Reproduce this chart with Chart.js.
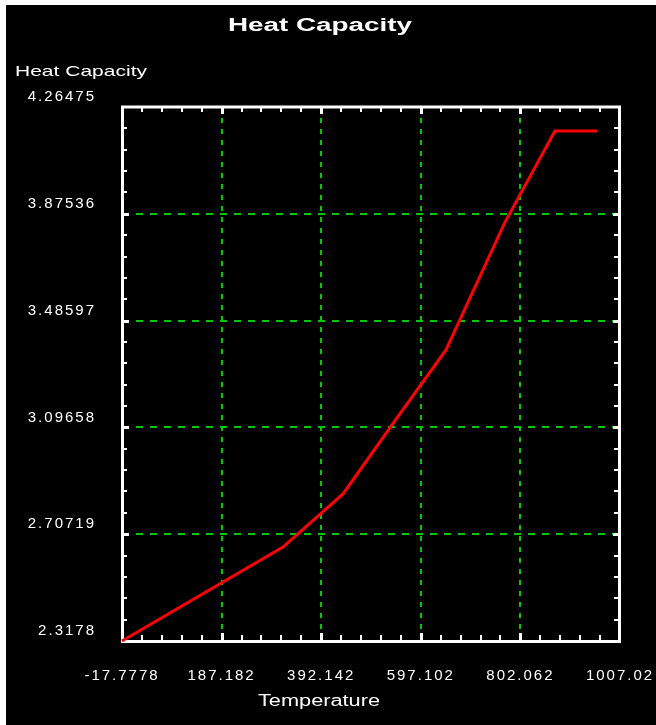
<!DOCTYPE html>
<html><head><meta charset="utf-8">
<script src="https://cdn.jsdelivr.net/npm/chart.js@4.4.1/dist/chart.umd.min.js"></script>
<style>html,body{margin:0;padding:0;background:#fff;overflow:hidden}</style>
</head><body>
<canvas id="c" width="656" height="725"></canvas>
<script>
// ---- data ----
const chartTitle = 'Heat Capacity';
const xAxisTitle = 'Temperature';
const yAxisTitle = 'Heat Capacity';
const temperature  = [-17.7778, 313.5, 437.0, 548.1, 648.9, 770.4, 873.2, 959.7];
const heatCapacity = [2.3178, 2.6605, 2.854, 3.131, 3.379, 3.845, 4.177, 4.177];
const xTickValues = [-17.7778, 187.182, 392.142, 597.102, 802.062, 1007.02];
const xTickLabels = ['-17.7778', '187.182', '392.142', '597.102', '802.062', '1007.02'];
const yTickValues = [2.3178, 2.70719, 3.09658, 3.48597, 3.87536, 4.26475];
const yTickLabels = ['2.3178', '2.70719', '3.09658', '3.48597', '3.87536', '4.26475'];

const FONT = "'Liberation Sans', Arial, sans-serif";

function drawStretched(ctx, text, font, x, y, width, align) {
  ctx.save();
  ctx.letterSpacing = '0px';
  ctx.font = font;
  const w = ctx.measureText(text).width;
  const left = align === 'center' ? x - width / 2 : x;
  ctx.translate(left, y);
  ctx.scale(width / w, 1);
  ctx.textAlign = 'left';
  ctx.textBaseline = 'alphabetic';
  ctx.fillStyle = '#ffffff';
  ctx.fillText(text, 0, 0);
  ctx.restore();
}

const backgroundPlugin = {
  id: 'bg',
  beforeDraw(chart) {
    const ctx = chart.ctx;
    ctx.save();
    ctx.fillStyle = '#ffffff';
    ctx.fillRect(0, 0, chart.width, chart.height);
    ctx.fillStyle = '#000000';
    ctx.fillRect(6, 5, chart.width - 6, chart.height - 5);
    ctx.restore();
    ctx.letterSpacing = '2px';
  }
};

const framePlugin = {
  id: 'frame',
  beforeDatasetsDraw(chart) {
    const ctx = chart.ctx;
    const a = chart.chartArea;
    const xs = chart.scales.x, ys = chart.scales.y;
    ctx.save();
    ctx.strokeStyle = '#ffffff';
    ctx.lineWidth = 3;
    ctx.strokeRect(a.left + 0.5, a.top, a.right - a.left - 1, a.bottom - a.top + 0.5);
    const xStep = xTickValues[1] - xTickValues[0];
    const yStep = yTickValues[1] - yTickValues[0];
    ctx.fillStyle = '#ffffff';
    for (let i = 0; i < xTickValues.length - 1; i++) {
      for (let j = 0; j < 5; j++) {
        const px = Math.round(xs.getPixelForValue(xTickValues[0] + (i + j / 5) * xStep));
        if (i === 0 && j === 0) continue;
        if (j === 0) {
          ctx.fillRect(px - 1, a.bottom - 8, 3, 8);
          ctx.fillRect(px - 1, a.top, 3, 7);
        } else {
          ctx.fillRect(px - 1, a.bottom - 6, 2, 6);
          ctx.fillRect(px - 1, a.top, 2, 5);
        }
      }
    }
    for (let i = 0; i < yTickValues.length - 1; i++) {
      for (let j = 0; j < 5; j++) {
        const py = Math.round(ys.getPixelForValue(yTickValues[0] + (i + j / 5) * yStep));
        if (i === 0 && j === 0) continue;
        if (j === 0) {
          ctx.fillRect(a.left, py - 1, 7, 3);
          ctx.fillRect(a.right - 7, py - 1, 7, 3);
        } else {
          ctx.fillRect(a.left, py - 1, 5, 2);
          ctx.fillRect(a.right - 6, py - 1, 6, 2);
        }
      }
    }
    ctx.restore();
  },
  afterDraw(chart) {
    const ctx = chart.ctx;
    drawStretched(ctx, chartTitle, "bold 18px " + FONT, 320, 31, 184, 'center');
    drawStretched(ctx, yAxisTitle, "15px " + FONT, 15, 76, 132, 'left');
    drawStretched(ctx, xAxisTitle, "16px " + FONT, 319, 706, 122, 'center');
  }
};

new Chart(document.getElementById('c'), {
  type: 'line',
  data: {
    datasets: [{
      data: temperature.map((t, i) => ({ x: t, y: heatCapacity[i] })),
      borderColor: '#ff0000',
      borderWidth: 3,
      pointRadius: 0,
      tension: 0,
      fill: false,
      clip: 4
    }]
  },
  options: {
    responsive: false,
    animation: false,
    events: [],
    layout: { padding: { top: 107, right: 36, bottom: 0, left: 0 } },
    plugins: { legend: { display: false }, title: { display: false }, tooltip: { enabled: false } },
    scales: {
      x: {
        type: 'linear',
        min: xTickValues[0],
        max: xTickValues[xTickValues.length - 1],
        afterBuildTicks: s => { s.ticks = xTickValues.map(v => ({ value: v })); },
        afterFit: s => { s.height = 84; s.paddingLeft = 0; s.paddingRight = 0; },
        grid: { color: '#00c800', lineWidth: 2, drawTicks: false },
        border: { display: false, dash: [5, 6] },
        ticks: {
          color: '#ffffff', font: { family: FONT, size: 15 }, padding: 26,
          autoSkip: false, maxRotation: 0, minRotation: 0,
          callback: (v, i) => xTickLabels[i]
        }
      },
      y: {
        type: 'linear',
        min: yTickValues[0],
        max: yTickValues[yTickValues.length - 1],
        afterBuildTicks: s => { s.ticks = yTickValues.map(v => ({ value: v })); },
        afterFit: s => { s.width = 122; s.paddingTop = 0; s.paddingBottom = 0; },
        grid: { color: '#00c800', lineWidth: 2, drawTicks: false },
        border: { display: false, dash: [7, 7] },
        ticks: {
          color: '#ffffff', font: { family: FONT, size: 15 }, padding: 26,
          labelOffset: -10, autoSkip: false,
          callback: (v, i) => yTickLabels[i]
        }
      }
    }
  },
  plugins: [backgroundPlugin, framePlugin]
});
</script>
</body></html>
